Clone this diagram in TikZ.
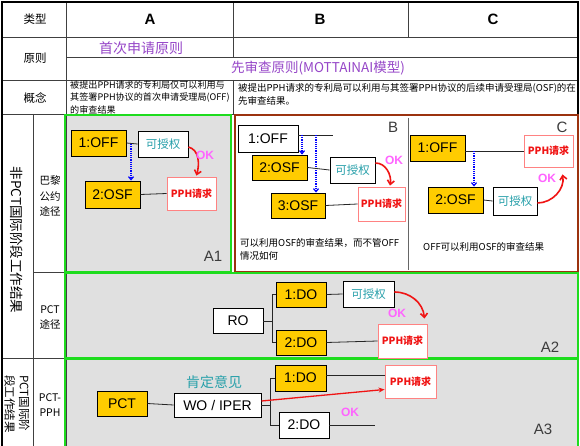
\documentclass[tikz,border=0pt]{standalone}
\usepackage{fontspec}
\setmainfont{Liberation Sans}
\newfontfamily\cjk{Noto Sans CJK SC}
\usetikzlibrary{arrows.meta}
\definecolor{cyellow}{RGB}{255,204,0}
\definecolor{cgreen}{RGB}{30,220,30}
\definecolor{cbrown}{RGB}{155,50,15}
\definecolor{cgray}{RGB}{224,224,224}
\definecolor{cteal}{RGB}{40,160,170}
\definecolor{cpurple}{RGB}{150,70,200}
\definecolor{cpink}{RGB}{255,100,255}
\definecolor{cpphb}{RGB}{255,130,130}
\definecolor{cred}{RGB}{240,20,20}
\definecolor{clbl}{RGB}{60,60,60}
\tikzset{
  grid/.style={black!75, line width=0.7pt},
  outer/.style={black, line width=1.2pt},
  gpanel/.style={draw=cgreen, line width=2.2pt},
  bpanel/.style={draw=cbrown, line width=2.2pt},
  ybox/.style={draw=black, line width=0.9pt, fill=cyellow, inner sep=0pt, font=\fontsize{14}{14}\selectfont},
  wbox/.style={draw=black, line width=0.9pt, fill=white, inner sep=0pt, font=\fontsize{14}{14}\selectfont},
  grbox/.style={draw=black, line width=0.9pt, fill=white, inner sep=0pt, text=cteal, font=\cjk\fontsize{11.5}{12}\selectfont},
  pbox/.style={draw=cpphb, line width=0.9pt, fill=white, inner sep=0pt, text=cred, font=\cjk\bfseries\fontsize{10}{10}\selectfont},
  conn/.style={black!85, line width=0.8pt},
  bdot/.style={blue, densely dotted, line width=1.2pt, -{Straight Barb[length=3pt,width=5pt]}},
  okarr/.style={cred, line width=1.6pt, -{Straight Barb[length=4pt,width=7pt]}},
  oktxt/.style={text=cpink, font=\bfseries\fontsize{12}{12}\selectfont},
  panlbl/.style={text=clbl, font=\fontsize{15}{15}\selectfont},
  hdr/.style={font=\bfseries\fontsize{15}{15}\selectfont},
  rowlbl/.style={font=\cjk\fontsize{11.5}{12}\selectfont},
  small/.style={font=\cjk\fontsize{9.5}{11}\selectfont, inner sep=0pt, anchor=west},
  smallA/.style={small, font=\cjk\fontsize{9.1}{11}\selectfont},
  sublbl/.style={align=center, font=\cjk\fontsize{10.5}{15.5}\selectfont},
}
\begin{document}
\begin{tikzpicture}[x=1pt,y=-1pt]
\useasboundingbox (0,0) rectangle (580,446);
\fill[white] (0,0) rectangle (580,446);

% panel fills
\fill[cgray] (65,115) rectangle (231,272);
\fill[cgray] (65,273) rectangle (578,358);
\fill[cgray] (65,359) rectangle (578,449);

% table grid
\draw[grid] (2,37) -- (578,37);
\draw[grid] (66,57) -- (578,57);
\draw[grid] (2,80) -- (578,80);
\draw[grid] (2,114) -- (578,114);
\draw[grid] (66,2) -- (66,446);
\draw[grid] (233,2) -- (233,57);
\draw[grid] (233,80) -- (233,114);
\draw[grid] (408,2) -- (408,37);
\draw[grid] (33,114) -- (33,446);
\draw[grid] (33,272) -- (66,272);
\draw[grid] (2,358) -- (66,358);
\draw[outer] (2,2) rectangle (578,447);

% panel borders
\draw[gpanel] (65,115) rectangle (231,272);
\draw[bpanel] (235,115) rectangle (578,272);
\draw[black!60, line width=0.7pt] (408,118) -- (408,270);
\draw[gpanel] (65,273) rectangle (578,358);
\draw[gpanel] (65,359) rectangle (578,449);

% header
\node[rowlbl] (hType) at (35,19) {类型};
\node[hdr] (hA) at (150,19) {A};
\node[hdr] (hB) at (320,19) {B};
\node[hdr] (hC) at (493,19) {C};
\node[rowlbl] (hPrin) at (35,58) {原则};
\node[text=cpurple, font=\cjk\fontsize{14}{14}\selectfont] (prinA) at (141,48) {首次申请原则};
\node[text=cpurple, font=\cjk\fontsize{13.5}{14}\selectfont] (prinB) at (318,68) {先审查原则(MOTTAINAI模型)};
\node[rowlbl] (hCon) at (35,98) {概念};
\node[smallA] (conA1) at (70,85) {被提出PPH请求的专利局仅可以利用与};
\node[smallA] (conA2) at (70,97.5) {其签署PPH协议的首次申请受理局(OFF)};
\node[smallA] (conA3) at (70,110) {的审查结果};
\node[small] (conB1) at (238,88) {被提出PPH请求的专利局可以利用与其签署PPH协议的后续申请受理局(OSF)的在};
\node[small] (conB2) at (238,100.5) {先审查结果。};

% left labels
\node[rotate=-90, font=\cjk\fontsize{13.5}{14}\selectfont] (nonpct) at (17,240) {非PCT国际阶段工作结果};
\node[rotate=-90, align=left, font=\cjk\fontsize{11.5}{14.5}\selectfont] (pctlab) at (17,404) {PCT国际阶\\段工作结果};
\node[sublbl] (paris) at (50,196) {巴黎\\公约\\途径};
\node[sublbl, font=\cjk\fontsize{10.5}{15}\selectfont] (pctway) at (50,317.5) {PCT\\途径};
\node[sublbl, font=\cjk\fontsize{10.5}{15}\selectfont] (pctpph) at (50,405.5) {PCT-\\PPH};

% ---------- A1 ----------
\node[ybox, minimum width=55pt, minimum height=26pt] (a1off) at (98.5,143) {1:OFF};
\node[grbox, minimum width=50pt, minimum height=26pt] (a1grant) at (163,144) {可授权};
\node[ybox, minimum width=55pt, minimum height=27pt] (a1osf) at (112.5,194.5) {2:OSF};
\node[pbox, minimum width=49pt, minimum height=33pt] (a1pph) at (191.5,193.5) {PPH请求};
\draw[conn] (a1off.east) -- (a1grant.west);
\draw[conn] (a1osf.east) -- (a1pph.west);
\coordinate (a1j) at (131,144);
\draw[bdot] (a1j) -- (a1j |- a1osf.north);
\draw[okarr] ([yshift=-3pt]a1grant.east) to[out=-15,in=75] ([xshift=5pt,yshift=1pt]a1pph.north);
\node[oktxt] (a1ok) at (205,155) {OK};
\node[panlbl] (a1lbl) at (213,256) {A1};

% ---------- B ----------
\node[wbox, minimum width=60pt, minimum height=27pt] (b1off) at (268,138.5) {1:OFF};
\coordinate (bend) at (333,135);
\draw[conn] ([yshift=3.5pt]b1off.east) -- (bend);
\node[ybox, minimum width=55pt, minimum height=25pt] (b2osf) at (279.5,167.5) {2:OSF};
\node[grbox, minimum width=45pt, minimum height=26pt] (bgrant) at (352.5,170) {可授权};
\node[ybox, minimum width=54pt, minimum height=25pt] (b3osf) at (298,205.5) {3:OSF};
\node[pbox, minimum width=47pt, minimum height=34pt] (bpph) at (381.5,204) {PPH请求};
\coordinate (bj1) at (302,135);
\coordinate (bj2) at (316,135);
\draw[bdot] (bj1) -- (bj1 |- b2osf.north);
\draw[bdot] (bj2) -- (bj2 |- b3osf.north);
\draw[conn] (b2osf.east) -- (bgrant.west);
\draw[conn] (b3osf.east) -- (bpph.west);
\draw[okarr] ([yshift=7pt]bgrant.east) to[out=0,in=80] ([xshift=8.5pt,yshift=1pt]bpph.north);
\node[oktxt] (bok) at (394,160) {OK};
\node[panlbl] (blbl) at (393,127) {B};
\node[small] (btxt1) at (240,243) {可以利用OSF的审查结果，而不管OFF};
\node[small] (btxt2) at (240,256) {情况如何};

% ---------- C ----------
\node[ybox, minimum width=55pt, minimum height=26pt] (c1off) at (437.5,148) {1:OFF};
\node[pbox, minimum width=49pt, minimum height=32pt] (cpph) at (548.5,151) {PPH请求};
\draw[conn] ([yshift=-3pt]c1off.east) -- ([yshift=-3pt]c1off.east -| cpph.west);
\node[ybox, minimum width=55pt, minimum height=26pt] (c2osf) at (455.5,200) {2:OSF};
\node[grbox, minimum width=44pt, minimum height=28pt] (cgrant) at (515,201) {可授权};
\coordinate (cj) at (474,151);
\draw[bdot] (cj) -- (cj |- c2osf.north);
\draw[conn] (c2osf.east) -- (cgrant.west);
\draw[okarr] ([yshift=-2pt]cgrant.east) to[out=0,in=-80] ([xshift=14pt,yshift=-7pt]cpph.south);
\node[oktxt] (cok) at (547,178) {OK};
\node[panlbl] (clbl) at (562,127) {C};
\node[small] (ctxt) at (423,247) {OFF可以利用OSF的审查结果};

% ---------- A2 ----------
\node[wbox, minimum width=50pt, minimum height=25pt] (ro) at (238,321) {RO};
\node[ybox, minimum width=50pt, minimum height=25pt] (a2do1) at (301,294.5) {1:DO};
\node[ybox, minimum width=50pt, minimum height=25pt] (a2do2) at (301,342.5) {2:DO};
\node[grbox, minimum width=51pt, minimum height=26pt] (a2grant) at (368.5,294) {可授权};
\node[pbox, minimum width=49pt, minimum height=34pt] (a2pph) at (402.5,341) {PPH请求};
\draw[conn] (ro.east) -- ++(9,0) |- (a2do1.west);
\draw[conn] (ro.east) -- ++(9,0) |- (a2do2.west);
\draw[conn] (a2do1.east) -- (a2grant.west);
\draw[conn] (a2do2.east) -- (a2pph.west);
\draw[okarr] ([yshift=2pt]a2grant.east) to[out=0,in=95] ([xshift=-3pt,yshift=5pt]a2pph.north east);
\node[oktxt] (a2ok) at (397,313) {OK};
\node[panlbl] (a2lbl) at (550,347) {A2};

% ---------- A3 ----------
\node[ybox, minimum width=50pt, minimum height=25pt] (pct) at (122,403.5) {PCT};
\node[wbox, minimum width=87pt, minimum height=24pt] (wo) at (217.5,405) {WO / IPER};
\node[text=cteal, font=\cjk\fontsize{14}{14}\selectfont] (pos) at (214,382) {肯定意见};
\node[ybox, minimum width=51pt, minimum height=26pt] (a3do1) at (300.5,378) {1:DO};
\node[wbox, minimum width=50pt, minimum height=26pt] (a3do2) at (304,425) {2:DO};
\node[pbox, minimum width=51pt, minimum height=33pt] (a3pph) at (410.5,381.5) {PPH请求};
\draw[conn] (pct.east) -- (wo.west);
\draw[conn] (wo.east) -- ++(9,0) |- (a3do1.west);
\draw[conn] (wo.east) -- ++(9,0) |- (a3do2.west);
\draw[conn] ([yshift=3pt]a3do1.east) -- ([yshift=3pt]a3do1.east -| a3pph.west);
\coordinate (a3end) at (375,425);
\draw[conn] (a3do2.east) -- (a3end);
\draw[cred, line width=1.3pt, -{Stealth[length=6pt,width=5pt]}] ([yshift=4pt]wo.east) -- ([yshift=-8pt]a3pph.west);
\node[oktxt] (a3ok) at (350,412) {OK};
\node[panlbl] (a3lbl) at (543,429) {A3};
\end{tikzpicture}
\end{document}
